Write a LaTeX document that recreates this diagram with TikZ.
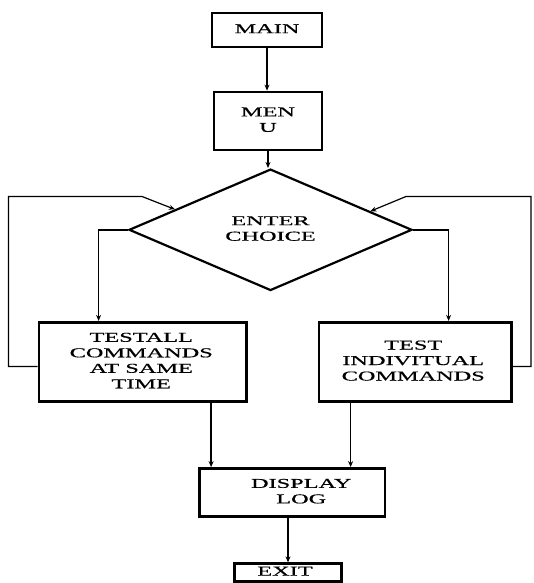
\documentclass[tikz,border=0pt]{standalone}
\usepackage{fontspec}
\setmainfont{Liberation Serif}[FakeStretch=1.8,FakeBold=0.6]
\usetikzlibrary{shapes.geometric,arrows.meta,calc}
\newcommand{\tx}[3]{\raisebox{#2}{\kern#1\begin{tabular}{@{}c@{}}#3\end{tabular}}}
\begin{document}
\begin{tikzpicture}[x=1pt,y=-1pt,
  box/.style={draw,rectangle,line width=2.8pt,inner sep=0pt,
    font=\fontsize{13.5}{15.5}\selectfont},
  choice/.style={draw,diamond,line width=2.2pt,inner sep=0pt,
    minimum width=283pt,minimum height=89.6pt,
    font=\fontsize{13.5}{15.5}\selectfont},
  arr/.style={line width=1.5pt,-{Stealth[length=6pt,width=5pt]}},
  backline/.style={line width=1.2pt,-{Stealth[length=6pt,width=5pt]}}]
\useasboundingbox (0,0) rectangle (533,583);
\fill[white] (0,0) rectangle (533,583);

\node[box,minimum width=110pt,minimum height=34pt] (main) at (267,30) {\tx{0pt}{0pt}{MAIN}};
\node[box,minimum width=108pt,minimum height=58pt] (menu) at (268,121) {\tx{0pt}{-5.5pt}{MEN\\U}};
\node[choice] (d) at (270.5,229.8) {\tx{0pt}{6pt}{ENTER\\CHOICE}};
\node[box,minimum width=207.5pt,minimum height=79.2pt] (testall) at (142.75,361.9) {\tx{-3pt}{4.4pt}{TESTALL\\COMMANDS\\AT SAME\\TIME}};
\node[box,minimum width=192.5pt,minimum height=79.2pt] (test) at (415.25,361.9) {\tx{-4pt}{-3pt}{TEST\\INDIVITUAL\\COMMANDS}};
\node[box,minimum width=185.5pt,minimum height=48pt] (disp) at (292.25,492.5) {\tx{18pt}{4.5pt}{DISPLAY\\LOG}};
\node[box,minimum width=107pt,minimum height=17.5pt] (exit) at (288,572.5) {\tx{-6pt}{2.5pt}{EXIT}};

% main flow
\draw[arr] (main.south) -- (main.south |- menu.north);
\draw[arr] (menu.south) -- (menu.south |- d.north);
\draw[arr] (d.west) -| ($(testall.north west)+(61,0)$);
\draw[arr] (d.east) -| ($(test.north west)+(131,0)$);
\draw[arr] ($(testall.south west)+(173.5,0)$) coordinate (a1) -- (a1 |- disp.north);
\draw[arr] ($(test.south west)+(33,0)$) coordinate (a2) -- (a2 |- disp.north);
\draw[arr] (exit.north |- disp.south) -- (exit.north);

% lines back to the choice
\coordinate (lt) at ($(d.north)!0.67!(d.west)$);
\coordinate (rt) at ($(d.north)!0.7!(d.east)$);
\coordinate (lc) at (8.5,196.5);
\coordinate (rc) at (531,196.5);
\draw[backline] ($(testall.west)+(0,4.6)$) -| (lc) -- (142,196.5) -- (lt);
\draw[backline] ($(test.east)+(0,4.6)$) -| (rc) -- (406,196.5) -- (rt);
\end{tikzpicture}
\end{document}
